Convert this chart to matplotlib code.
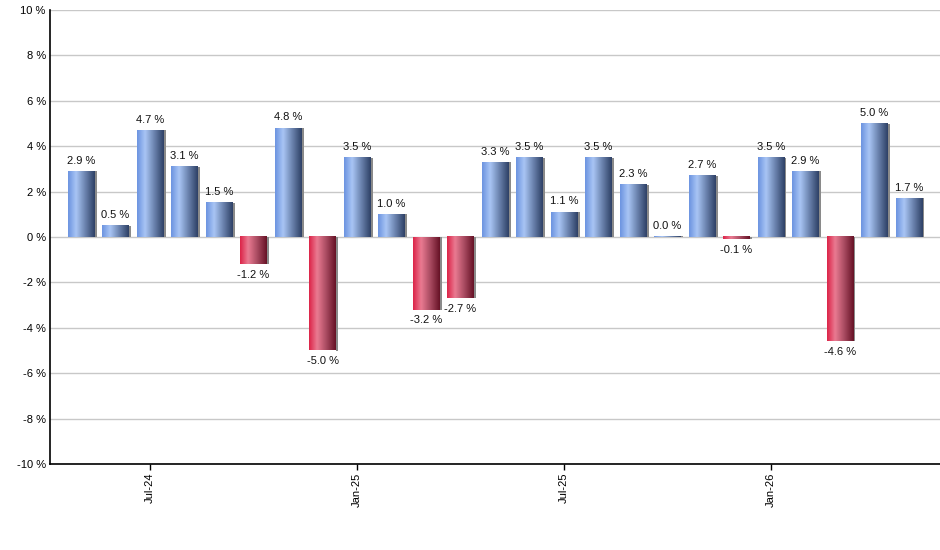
import matplotlib
matplotlib.use("Agg")
import matplotlib.pyplot as plt
import numpy as np
from matplotlib.colors import LinearSegmentedColormap

months = ["May-24", "Jun-24", "Jul-24", "Aug-24", "Sep-24", "Oct-24", "Nov-24", "Dec-24",
          "Jan-25", "Feb-25", "Mar-25", "Apr-25", "May-25", "Jun-25", "Jul-25", "Aug-25",
          "Sep-25", "Oct-25", "Nov-25", "Dec-25", "Jan-26", "Feb-26", "Mar-26", "Apr-26", "May-26"]
values = [2.9, 0.5, 4.7, 3.1, 1.5, -1.2, 4.8, -5.0, 3.5, 1.0, -3.2, -2.7, 3.3, 3.5, 1.1, 3.5,
          2.3, 0.03, 2.7, -0.1, 3.5, 2.9, -4.6, 5.0, 1.7]
tick_labels = ["Jul-24", "Jan-25", "Jul-25", "Jan-26"]
y_ticks = [-10, -8, -6, -4, -2, 0, 2, 4, 6, 8, 10]

plt.rcParams['font.family'] = ['Liberation Sans', 'DejaVu Sans']

blue_cmap = LinearSegmentedColormap.from_list(
    "b", [(0, "#6c94e0"), (0.3, "#a9c5f5"), (0.65, "#6a82ad"), (1.0, "#2e4166")])
red_cmap = LinearSegmentedColormap.from_list(
    "r", [(0, "#dc2448"), (0.3, "#ea7b92"), (0.65, "#a84a60"), (1.0, "#661226")])

fig = plt.figure(figsize=(9.4, 5.5), dpi=100)
ax = fig.add_axes([50/940, 1 - 464/550, 890/940, 454/550])

width = 0.78
grad = np.linspace(0, 1, 64).reshape(1, -1)
x = np.arange(len(values))
for xi, v in zip(x, values):
    x0, x1 = xi - width/2, xi + width/2
    cmap = blue_cmap if v >= 0 else red_cmap
    # shadow
    ax.fill_between([x1, x1 + 0.06], [0, 0], [v, v], color="#8a8a8a", zorder=2, lw=0)
    ax.imshow(grad, cmap=cmap, extent=[x0, x1, 0, v] if v >= 0 else [x0, x1, v, 0],
              aspect='auto', zorder=3, interpolation='bicubic')
    lab = f"{v:.1f} %"
    if v >= 0:
        ax.annotate(lab, (xi, v), xytext=(0, 4), textcoords='offset points',
                    ha='center', va='bottom', fontsize=8, color='#111111', zorder=4)
    else:
        ax.annotate(lab, (xi, v), xytext=(0, -4), textcoords='offset points',
                    ha='center', va='top', fontsize=8, color='#111111', zorder=4)

ax.set_xlim(-0.9, 24.9)
ax.set_ylim(-10, 10)
ax.set_yticks(y_ticks)
ax.set_yticklabels([f"{t} %" for t in y_ticks], fontsize=8)
ax.tick_params(axis='y', length=0, pad=3)
ticks_idx = [months.index(t) for t in tick_labels]
ax.set_xticks(ticks_idx)
ax.set_xticklabels(tick_labels, rotation=90, fontsize=8)
ax.tick_params(axis='x', length=4, width=1, pad=2)
ax.grid(axis='y', color='#c8c8c8', lw=1, zorder=0)
ax.set_axisbelow(True)
for s in ['top', 'right']:
    ax.spines[s].set_visible(False)
ax.spines['left'].set_linewidth(1.2)
ax.spines['bottom'].set_linewidth(1.2)

fig.savefig("out.png", dpi=100)
